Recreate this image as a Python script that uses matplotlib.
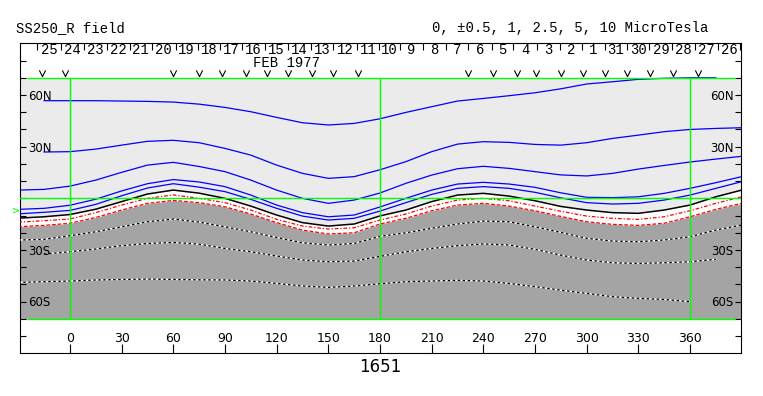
import numpy as np
import matplotlib.pyplot as plt
from matplotlib.path import Path

nan = np.nan

# carrington longitude grid the contours were read on
lon = [-30, -15, 0, 15, 30, 45, 60, 75, 90, 105, 120, 135, 150, 165, 180,
       195, 210, 225, 240, 255, 270, 285, 300, 315, 330, 345, 360, 375, 390]

# contour latitudes, microTesla levels
pos10 = [nan, 56.7, 56.7, 56.7, 56.5, 56.3, 55.9, 54.7, 52.8, 50.3, 47.0, 43.9, 42.6, 43.5, 46.2,
         49.9, 53.2, 56.5, 58.0, 59.6, 61.3, 63.6, 66.4, 67.7, 69.1, 69.7, 70.0, 70.0, nan]
pos5 = [nan, 26.9, 27.1, 28.6, 30.9, 33.1, 33.7, 32.3, 29.0, 25.1, 19.3, 14.5, 11.6, 12.6, 16.6,
        21.3, 27.1, 31.5, 32.9, 32.5, 31.3, 30.9, 32.3, 34.8, 36.7, 38.7, 40.0, 40.6, 41.0]
pos2_5 = [4.8, 5.2, 7.1, 10.6, 15.1, 19.3, 20.9, 18.5, 15.5, 10.6, 4.8, 0.0, -2.9, -1.0, 3.1,
          8.7, 13.5, 17.2, 18.6, 17.4, 15.5, 13.6, 13.0, 14.5, 17.0, 19.1, 21.1, 22.8, 24.4]
pos1 = [-6.4, -5.8, -4.0, -0.5, 4.3, 8.5, 10.9, 9.5, 6.8, 1.9, -3.9, -8.3, -10.7, -9.7, -5.0,
        0.0, 4.8, 8.3, 9.3, 8.3, 6.4, 3.2, 0.6, 0.4, 0.9, 2.9, 5.8, 9.1, 12.6]
pos0_5 = [-9.0, -8.1, -7.0, -3.5, 1.5, 6.0, 8.5, 6.5, 3.9, -0.6, -5.8, -10.3, -12.6, -11.6, -7.4,
          -2.5, 2.3, 5.8, 6.8, 5.8, 3.5, 0.3, -2.5, -3.3, -2.9, -1.0, 1.9, 5.8, 9.7]
zero = [-11.5, -10.7, -9.4, -6.3, -1.9, 2.5, 4.8, 3.0, 0.0, -4.5, -9.7, -14.1, -16.1, -14.9, -10.2,
        -6.8, -1.9, 1.9, 2.9, 1.3, -1.4, -4.7, -6.8, -8.3, -8.7, -6.8, -3.9, 0.9, 4.8]
neg0_5 = [-13.8, -13.0, -12.0, -8.3, -3.9, 0.0, 2.0, 0.0, -2.5, -6.8, -12.2, -16.1, -17.8, -17.1, -12.6,
          -9.1, -4.5, -1.0, 0.0, -1.4, -4.5, -7.5, -10.3, -11.6, -12.2, -10.7, -7.2, -2.9, 0.9]
neg1 = [-16.5, -15.7, -14.5, -11.1, -6.8, -2.9, -1.2, -2.5, -4.9, -9.1, -14.1, -18.4, -20.7, -20.0, -14.9,
        -11.6, -7.2, -3.9, -2.9, -4.5, -7.2, -10.5, -13.6, -15.1, -15.7, -14.5, -10.7, -6.4, -2.9]
neg2_5 = [-24.2, -23.8, -21.7, -19.4, -16.5, -13.6, -12.0, -13.8, -16.5, -19.4, -22.7, -25.8, -27.1, -26.2, -22.1,
          -20.0, -17.4, -14.9, -13.2, -13.6, -16.5, -19.8, -23.2, -24.8, -25.2, -24.2, -22.3, -18.4, -15.5]
neg5 = [nan, -32.3, -31.0, -29.4, -27.5, -26.2, -25.6, -26.6, -29.1, -31.0, -33.5, -35.8, -36.8, -36.4, -33.7,
        -31.0, -29.1, -27.5, -26.5, -27.1, -29.6, -33.0, -35.8, -37.4, -37.8, -37.4, -36.8, -35.4, nan]
neg10 = [-48.8, -48.4, -48.0, -47.4, -47.1, -46.9, -47.1, -47.3, -47.4, -48.0, -49.4, -50.9, -51.7, -50.9, -49.6,
         -48.4, -48.0, -47.6, -48.0, -49.4, -51.3, -53.3, -55.2, -57.1, -58.1, -58.7, -60.0, nan, nan]

# day boundaries along the top (carrington longitude) and day numbers
day_edges = [-19.0, -5.2, 8.1, 21.3, 34.8, 47.4, 61.4, 74.2, 87.3, 100.1, 113.3, 126.8, 139.8,
             152.9, 166.5, 179.4, 191.6, 205.2, 218.2, 231.3, 244.9, 257.4, 271.0, 284.6,
             297.1, 310.7, 323.3, 336.4, 349.8, 363.0, 376.1, 389.1]
day_labels = ['25', '24', '23', '22', '21', '20', '19', '18', '17', '16', '15', '14', '13', '12',
              '11', '10', '9', '8', '7', '6', '5', '4', '3', '2', '1', '31', '30', '29', '28',
              '27', '26']
obs_lon = [-16.4, -2.9, 59.6, 75.1, 88.1, 102.2, 114.2, 126.8, 140.3, 152.9, 167.1,
           231.3, 245.4, 259.4, 270.6, 285.1, 298.1, 310.7, 323.3, 336.8, 350.3, 364.5]
lon_ticks = [0, 30, 60, 90, 120, 150, 180, 210, 240, 270, 300, 330, 360]
lat_names = ['60N', '30N', '30S', '60S']
lat_vals = [60, 30, -30, -60]
sub_earth_lat = -7.3
rotation = '1651'

LIGHT = '#ebebeb'
DARK = '#a4a4a4'
GREEN = '#00ff00'
BLUE = '#0000ff'
RED = '#ff0000'
MONO = 'Liberation Mono'

# open chevron used for the observation marks
VEE = Path([(-1, 1), (0, -1), (1, 1)], [Path.MOVETO, Path.LINETO, Path.LINETO])


def main():
    fig = plt.figure(figsize=(7.63, 3.96), dpi=100)
    ax = fig.add_axes([20 / 763, 43 / 396, 721 / 763, 310 / 396])
    ax.set_xlim(-29.0, 389.6)
    ax.set_ylim(-89.8, 90.2)

    # polarity shading
    ax.fill_between([-30, 390], -70, 70, color=LIGHT, lw=0, zorder=0)
    ax.fill_between(lon, neg1, -70, color=DARK, lw=0, zorder=1)
    ax.fill_between(lon, zero, neg1, color='white', lw=0, zorder=1)

    for l in [pos10, pos5, pos2_5, pos1, pos0_5]:
        ax.plot(lon, l, color=BLUE, lw=0.9, zorder=3)
    ax.plot(lon, zero, color='black', lw=1.1, zorder=3)
    ax.plot(lon, neg0_5, color=RED, lw=0.9, ls=(0, (3, 1.5, 1, 1.5)), zorder=3)
    ax.plot(lon, neg1, color=RED, lw=0.9, ls=(0, (3, 1.5)), zorder=3)
    for l in [neg2_5, neg5, neg10]:
        ax.plot(lon, l, color='white', lw=0.9, zorder=3)
        ax.plot(lon, l, color='black', lw=0.9, ls=(0, (2, 2)), zorder=3)

    # green grid box
    ax.axhline(0, color=GREEN, lw=1, zorder=5)
    ax.hlines([70, -70], -25, 386, color=GREEN, lw=1, zorder=5)
    ax.vlines([0, 180, 360], -70, 70, color=GREEN, lw=1, zorder=5)

    for s in ax.spines.values():
        s.set_linewidth(0.8)
    ax.set_xticks(lon_ticks)
    ax.set_yticks(range(-80, 81, 10))
    ax.tick_params(axis='x', direction='in', length=6.5, width=0.8,
                   labelbottom=False)
    ax.tick_params(axis='y', direction='in', length=4.5, width=0.8,
                   left=True, right=True, labelleft=False)

    for v in lon_ticks:
        ax.text(v, -83.6, str(v), ha='center', va='baseline', fontsize=9)
    for name, v in zip(lat_names, lat_vals):
        ax.text(-24.4, v - 2.8, name, ha='left', va='baseline', fontsize=8.5, zorder=6)
        ax.text(385.2, v - 2.8, name, ha='right', va='baseline', fontsize=8.5, zorder=6)

    # date strip
    ax.vlines(day_edges, 86.3, 90.2, color='black', lw=0.8)
    for i, lab in enumerate(day_labels):
        c = (day_edges[i] + day_edges[i + 1]) / 2
        ax.text(c, 83.8, lab, ha='center', va='baseline', family=MONO, fontsize=10)
    ax.text(125.8, 76.4, 'FEB 1977', ha='center', va='baseline', family=MONO, fontsize=10)
    ax.plot(obs_lon, [72.6] * len(obs_lon), ls='none', marker=VEE, ms=4.5,
            mfc='none', mec='black', mew=0.8, clip_on=False)

    ax.text(-31.4, sub_earth_lat, '>', color=GREEN, fontsize=7, ha='center',
            va='center', clip_on=False)
    ax.text(180, -100.7, rotation, ha='center', va='baseline', fontsize=12, clip_on=False)

    fig.text(16 / 763, 1 - 31.7 / 396, 'SS250_R field', family=MONO, fontsize=10, va='baseline')
    fig.text(431.7 / 763, 1 - 31.7 / 396, '0, \u00b10.5, 1, 2.5, 5, 10 MicroTesla',
             family=MONO, fontsize=10, va='baseline')

    fig.savefig('out.png', dpi=100)


if __name__ == '__main__':
    main()
